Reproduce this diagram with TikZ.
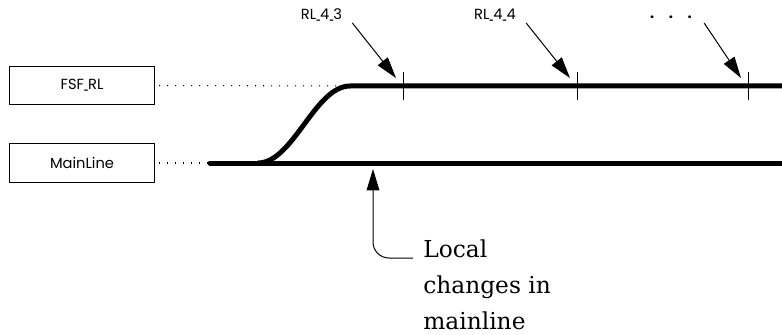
\documentclass[tikz,border=0pt]{standalone}
\usepackage{fontspec}
\usetikzlibrary{arrows.meta}
\newfontfamily\tagfont{Poppins}
\newfontfamily\notefont{DejaVu Serif}
\newcommand\lowbar{\kern-0.3pt\scalebox{0.45}[1]{\_}\kern-0.3pt}
\tikzset{
  trackbox/.style={draw,line width=0.8pt,minimum width=108.75pt,minimum height=29pt,
    inner sep=0pt,font=\tagfont\fontsize{11}{13}\selectfont},
  track/.style={line width=3.75pt,line cap=round},
  lead/.style={line width=0.8pt,dash pattern=on 0.9pt off 5.1pt},
  marker/.style={line width=0.75pt},
  pointer/.style={-{Triangle[length=16pt,width=9.5pt]},line width=0.75pt},
  rltag/.style={inner sep=0pt,anchor=base,font=\tagfont\fontsize{11}{13}\selectfont},
  note/.style={align=left,inner sep=0pt,font=\notefont\fontsize{17.5}{27}\selectfont}
}
\begin{document}
\begin{tikzpicture}[x=0.75pt,y=-0.75pt]
  \useasboundingbox (0,0) rectangle (782,335);
  % boxes on the left
  \node[trackbox] (fsfrl) at (82,85.5) {FSF\lowbar RL};
  \node[trackbox] (mainline) at (82,163) {MainLine};
  % track ends
  \coordinate (upstart) at (350,86);
  \coordinate (upend) at (782,86);
  \coordinate (mainstart) at (210,163);
  \coordinate (mainend) at (782,163);
  \coordinate (branch) at (258,163);
  \draw[lead] ([shift={(4,0)}]fsfrl.east) -- (upstart);
  \draw[lead] ([shift={(4,0)}]mainline.east) -- (mainstart);
  \draw[track] (mainstart) -- (mainend);
  \draw[track,line cap=butt] (branch) .. controls (293,163) and (315,86) .. (upstart) -- (upend);
  % ticks on the upper track
  \foreach \name/\x in {t43/403,t44/577,tmore/748}{
    \draw[marker] (\x,72) -- (\x,100);
    \coordinate (\name) at (\x-7,78);
  }
  % labels above
  \node[rltag] (rl43) at (321.5,20) {RL\lowbar 4\lowbar 3};
  \node[rltag] (rl44) at (495,20) {RL\lowbar 4\lowbar 4};
  \node[rltag] (more) at (671,19) {\bfseries .\hspace{11pt}.\hspace{11pt}.};
  \draw[pointer] ([shift={(10,3)}]rl43.base east) -- (t43);
  \draw[pointer] ([shift={(10,3)}]rl44.base east) -- (t44);
  \draw[pointer] ([shift={(12,4)}]more.base east) -- (tmore);
  % note below
  \node[note,anchor=north west] (note) at (423,240) {Local\\changes in\\mainline};
  \coordinate (hit) at (373,169);
  \draw[pointer,rounded corners=12pt] ([shift={(-10,18)}]note.north west) -| (hit);
\end{tikzpicture}
\end{document}
